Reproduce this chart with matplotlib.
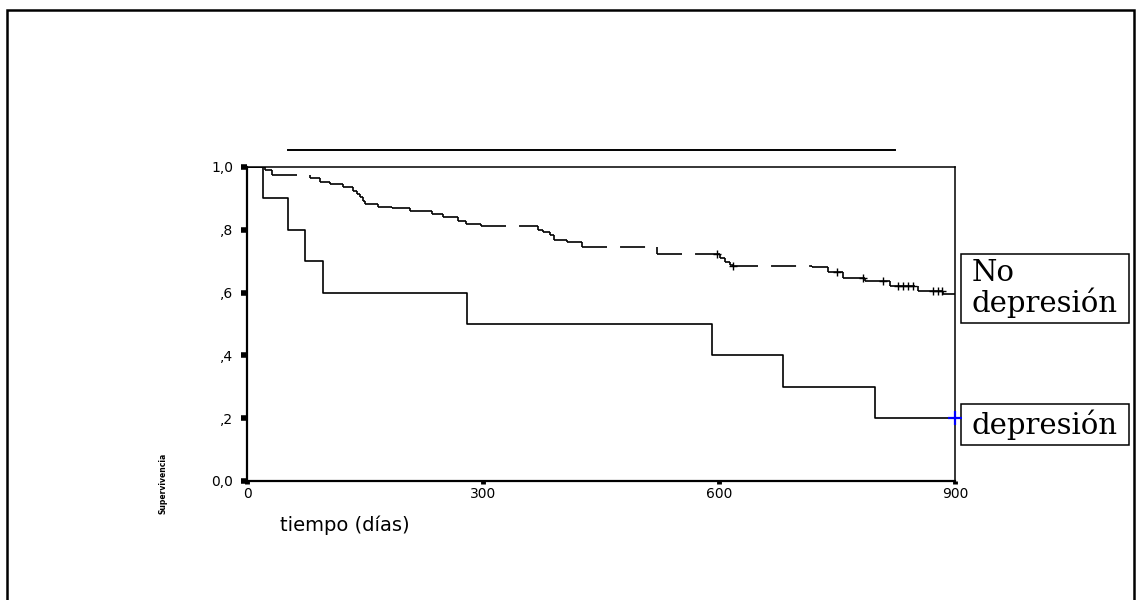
import numpy as np
import matplotlib
matplotlib.use("Agg")
import matplotlib.pyplot as plt
from matplotlib.lines import Line2D
from matplotlib.patches import Rectangle
from matplotlib.path import Path

plt.rcParams['lines.scale_dashes'] = False

# ---------------- data ----------------
# No depresión group: step times (days) and survival after each step
nodep_times = [0, 23, 32, 80, 93, 106, 122, 135, 140, 144, 147, 150, 167, 184, 207,
               235, 249, 268, 278, 297, 370, 376, 385, 390, 407, 426, 521, 601,
               608, 614, 618, 718, 739, 758, 786, 817, 853, 885]
nodep_surv = [1.0, 0.990, 0.976, 0.964, 0.951, 0.945, 0.937, 0.925, 0.914, 0.904,
              0.893, 0.882, 0.874, 0.868, 0.861, 0.850, 0.842, 0.829, 0.818, 0.812,
              0.800, 0.794, 0.783, 0.767, 0.761, 0.744, 0.723, 0.710, 0.697, 0.688,
              0.685, 0.680, 0.667, 0.645, 0.638, 0.621, 0.606, 0.597]
nodep_censored = [597, 618, 750, 783, 808, 828, 834, 840, 847, 872, 878, 884]

# Depresión group
dep_times = [0, 20, 52, 74, 97, 280, 591, 681, 798]
dep_surv = [1.0, 0.9, 0.8, 0.7, 0.6, 0.5, 0.4, 0.3, 0.2]
dep_censored = [900]

t_max = 900
x_ticks = [0, 300, 600, 900]
x_ticklabels = ["0", "300", "600", "900"]
y_ticks = [0.0, 0.2, 0.4, 0.6, 0.8, 1.0]
y_ticklabels = ["0,0", ",2", ",4", ",6", ",8", "1,0"]
group_labels = ["No\ndepresión", "depresión"]
x_label = "tiempo (días)"
y_label = "Supervivencia"

# ---------------- figure ----------------
W, H = 1136, 600
fig = plt.figure(figsize=(W / 100, H / 100), dpi=100)
fig.patch.set_facecolor("white")

def fx(px):
    return px / W

def fy(py):
    return 1 - py / H

ax = fig.add_axes([fx(247), fy(481), fx(955) - fx(247), fy(167) - fy(481)])
ax.set_xlim(0, t_max)
ax.set_ylim(0, 1.0)

for side in ["left", "bottom"]:
    ax.spines[side].set_linewidth(1.6)
for side in ["top", "right"]:
    ax.spines[side].set_linewidth(1.1)

ax.set_xticks(x_ticks)
ax.set_xticklabels(x_ticklabels)
ax.set_yticks(y_ticks)
ax.set_yticklabels(y_ticklabels)
ax.tick_params(axis="y", direction="out", length=4, width=4, pad=6,
               labelsize=10, labelcolor="black")
ax.tick_params(axis="x", direction="out", length=2, width=3.5, pad=2,
               labelsize=10, labelcolor="black")
for lab in ax.get_xticklabels() + ax.get_yticklabels():
    lab.set_family("DejaVu Sans")

# ---- No depresión: dashed horizontal segments, solid drops ----
nt = np.array(nodep_times, dtype=float)
ns = np.array(nodep_surv, dtype=float)
x_starts = nt
x_ends = np.append(nt[1:], t_max)
ax.hlines(ns, x_starts, x_ends, colors="black", linewidth=1.2,
          linestyles=[(0, (18, 9.4))])
ax.vlines(nt[1:], ns[1:], ns[:-1], colors="black", linewidth=1.2)
idx = np.searchsorted(nt, nodep_censored, side="right") - 1
ax.plot(nodep_censored, ns[idx], linestyle="none", marker="+",
        markersize=6, markeredgewidth=1.0, color="black")

# ---- Depresión: solid step ----
dt = np.array(dep_times + [t_max], dtype=float)
ds = np.array(dep_surv + [dep_surv[-1]], dtype=float)
ax.step(dt, ds, where="post", color="black", linewidth=1.2)
didx = np.searchsorted(np.array(dep_times, float), dep_censored, side="right") - 1
ax.plot(dep_censored, np.array(dep_surv)[didx], linestyle="none", marker="+",
        markersize=10, markeredgewidth=1.6, color="#0000ff", clip_on=False,
        zorder=5)


# ---- group labels in boxes at the curve ends ----
def label_box(x0, y0, width, height, mutation_size):
    px = 0.38 * mutation_size
    py = 0.17 * mutation_size
    xa, xb = x0 - px, x0 + width + px
    ya, yb = y0 - py, y0 + height + py
    return Path([(xa, ya), (xb, ya), (xb, yb), (xa, yb), (xa, ya)], closed=True)


box = dict(boxstyle=label_box, facecolor="white", edgecolor="black",
           linewidth=1.1)
ax.annotate(group_labels[0], xy=(t_max, ns[-1]), xytext=(12.2, 3.6),
            textcoords="offset points", ha="left", va="center",
            fontsize=21, family="DejaVu Serif", bbox=box,
            linespacing=1.0, annotation_clip=False)
ax.annotate(group_labels[1], xy=(t_max, dep_surv[-1]), xytext=(12.2, -4.5),
            textcoords="offset points", ha="left", va="center",
            fontsize=21, family="DejaVu Serif", bbox=box,
            annotation_clip=False)

# ---- axis labels ----
fig.text(fx(345), fy(525), x_label, ha="center", va="center",
         fontsize=14, family="DejaVu Sans")
fig.text(fx(163), fy(483), y_label, ha="center", va="center",
         rotation=90, fontsize=5.5, fontweight="bold", family="DejaVu Sans")

# ---- title rule (empty title) ----
fig.add_artist(Line2D([fx(288), fx(895)], [fy(150), fy(150)],
                      color="black", linewidth=1.4))

# ---- outer frame ----
fig.add_artist(Rectangle((fx(7), fy(620)), fx(1134) - fx(7), fy(9.5) - fy(620),
                         fill=False, edgecolor="black", linewidth=1.8,
                         transform=fig.transFigure))

fig.savefig("out.png", dpi=100, facecolor="white")
